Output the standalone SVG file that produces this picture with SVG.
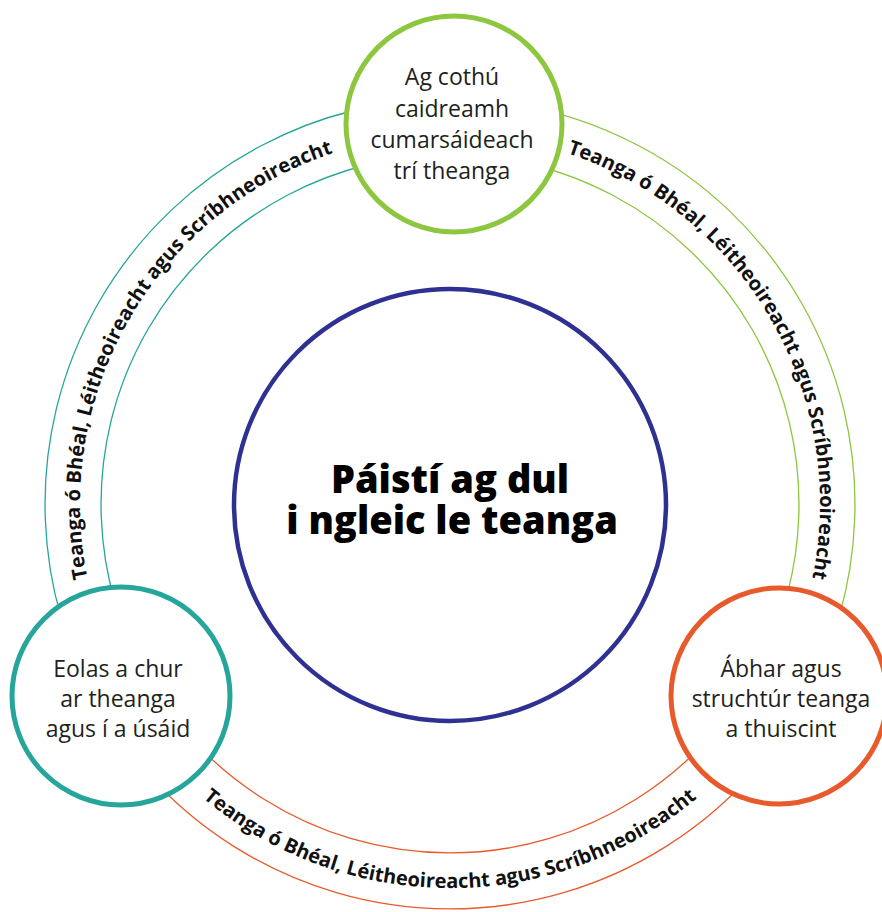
<svg xmlns="http://www.w3.org/2000/svg" width="882" height="912" viewBox="0 0 882 912">
<style>
.arc{fill:none;stroke-width:1.3}
.node{fill:#fff;stroke-width:5}
.lbl{font-family:"Open Sans","Liberation Sans",sans-serif;font-size:23px;fill:#231f20;text-anchor:middle}
.ring{font-family:"Open Sans","Liberation Sans",sans-serif;font-size:20px;font-weight:700;fill:#111}
.title{font-family:"Open Sans","Liberation Sans",sans-serif;font-size:38px;font-weight:800;fill:#000;text-anchor:middle}
</style>
<defs>
<path id="pTeal" d="M129.6,689 A370,370 0 0 1 450,134"/>
<path id="pGreen" d="M450,134 A370,370 0 0 1 770.4,689"/>
<path id="pOrange" d="M117.4,696 A384,384 0 0 0 782.6,696"/>
</defs>
<rect width="882" height="912" fill="#fff"/>
<g id="connectors">
<path class="arc" stroke="#26a69a" d="M99.3,706.5 A405,405 0 0 1 450,99"/>
<path class="arc" stroke="#26a69a" d="M147.8,678.5 A349,349 0 0 1 450,155"/>
<path class="arc" stroke="#8dc63f" d="M450,99 A405,405 0 0 1 800.7,706.5"/>
<path class="arc" stroke="#8dc63f" d="M450,155 A349,349 0 0 1 752.2,678.5"/>
<path class="arc" stroke="#e85a2b" d="M800.7,706.5 A405,405 0 0 1 99.3,706.5"/>
<path class="arc" stroke="#e85a2b" d="M752.2,678.5 A349,349 0 0 1 147.8,678.5"/>
<text class="ring"><textPath href="#pTeal" startOffset="50%" text-anchor="middle">Teanga ó Bhéal, Léitheoireacht agus Scríbhneoireacht</textPath></text>
<text class="ring"><textPath href="#pGreen" startOffset="50%" text-anchor="middle">Teanga ó Bhéal, Léitheoireacht agus Scríbhneoireacht</textPath></text>
<text class="ring"><textPath href="#pOrange" startOffset="50%" text-anchor="middle">Teanga ó Bhéal, Léitheoireacht agus Scríbhneoireacht</textPath></text>
</g>
<g id="center">
<circle cx="450" cy="505" r="216" fill="#fff" stroke="#2e3192" stroke-width="4.5"/>
<text class="title" x="450" y="493">Páistí ag dul</text>
<text class="title" x="452" y="534">i ngleic le teanga</text>
</g>
<g id="top">
<circle class="node" cx="454" cy="124" r="108" stroke="#8dc63f"/>
<text class="lbl" x="452" y="85">Ag cothú</text>
<text class="lbl" x="452" y="117">caidreamh</text>
<text class="lbl" x="452" y="148">cumarsáideach</text>
<text class="lbl" x="452" y="179">trí theanga</text>
</g>
<g id="left">
<circle class="node" cx="121" cy="696" r="109" stroke="#26a69a"/>
<text class="lbl" x="118" y="677">Eolas a chur</text>
<text class="lbl" x="118" y="707">ar theanga</text>
<text class="lbl" x="118" y="737">agus í a úsáid</text>
</g>
<g id="right">
<circle class="node" cx="779" cy="696" r="108" stroke="#e85a2b"/>
<text class="lbl" x="781" y="677">Ábhar agus</text>
<text class="lbl" x="781" y="707">struchtúr teanga</text>
<text class="lbl" x="781" y="737">a thuiscint</text>
</g>
</svg>
